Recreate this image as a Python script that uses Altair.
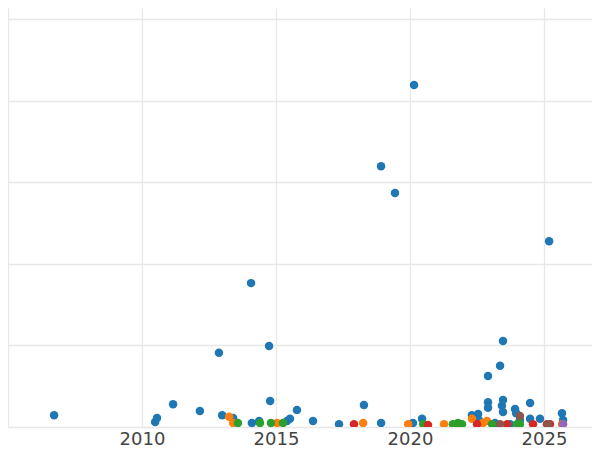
import altair as alt
import pandas as pd

series_names = ["A", "B", "C", "D", "E", "F"]
series_colors = ["#1f77b4", "#ff7f0e", "#2ca02c", "#d62728", "#8c564b", "#9467bd"]

years_a = [2006.72, 2010.49, 2010.56, 2011.16, 2012.16, 2012.87, 2012.99, 2013.40, 2014.07, 2014.10,
           2014.37, 2014.74, 2014.78, 2015.41, 2015.52, 2015.78, 2016.38, 2017.35, 2018.28, 2018.92,
           2018.92, 2019.44, 2020.11, 2020.15, 2020.45, 2022.31, 2022.54, 2022.57, 2022.91, 2022.91,
           2022.91, 2023.17, 2023.36, 2023.43, 2023.47, 2023.47, 2023.73, 2023.92, 2023.96, 2024.10,
           2024.48, 2024.48, 2024.85, 2025.19, 2025.67, 2025.71, 2023.47]
vals_a = [2.9, 1.2, 2.2, 5.6, 3.9, 18.2, 2.9, 2.2, 35.3, 1.0,
          1.5, 19.9, 6.4, 1.5, 2.0, 4.2, 1.5, 0.7, 5.4, 64.0,
          1.0, 57.4, 1.0, 83.9, 2.0, 2.9, 3.2, 1.7, 12.5, 6.1,
          4.7, 1.0, 15.0, 5.2, 21.1, 6.6, 0.7, 4.4, 3.4, 1.7,
          5.9, 2.0, 2.0, 45.6, 3.4, 1.7, 3.7]

years_b = [2013.25, 2013.40, 2015.04, 2018.25, 2019.93, 2021.27, 2022.31, 2022.72, 2022.87, 2025.67]
vals_b = [2.5, 1.0, 1.0, 1.0, 0.7, 0.7, 2.0, 1.0, 1.5, 0.7]

years_c = [2013.58, 2014.40, 2014.81, 2015.26, 2020.49, 2021.60, 2021.79, 2021.94, 2023.06, 2023.99, 2024.10]
vals_c = [1.0, 1.0, 1.0, 1.0, 0.7, 0.7, 1.0, 0.7, 0.7, 0.7, 0.7]

years_d = [2017.91, 2020.67, 2022.50, 2023.62, 2024.59, 2025.11, 2025.22]
vals_d = [0.7, 0.5, 0.7, 0.7, 0.7, 0.7, 0.7]

years_e = [2024.10, 2023.36, 2025.15]
vals_e = [2.7, 0.7, 0.7]

years_f = [2025.71]
vals_f = [0.7]

x_ticks = [2005, 2010, 2015, 2020, 2025]
y_ticks = [0, 20, 40, 60, 80, 100]

rows = []
for name, ys, vs in zip(series_names,
                        [years_a, years_b, years_c, years_d, years_e, years_f],
                        [vals_a, vals_b, vals_c, vals_d, vals_e, vals_f]):
    for yr, v in zip(ys, vs):
        rows.append({"series": name, "year": yr, "value": v, "order": len(rows)})
df = pd.DataFrame(rows)

chart = alt.Chart(df).mark_circle(size=72, opacity=1, clip=True).encode(
    x=alt.X("year:Q",
            scale=alt.Scale(domain=[2005, 2026.79], nice=False, zero=False),
            axis=alt.Axis(values=x_ticks, title=None, ticks=False, domain=False,
                          labelExpr="datum.value == 2005 ? '' : datum.label",
                          format="d", labelFlush=False, labelPadding=3,
                          labelFontSize=18, labelColor="#444444", labelFont="DejaVu Sans")),
    y=alt.Y("value:Q",
            scale=alt.Scale(domain=[0, 102.8], nice=False),
            axis=alt.Axis(values=y_ticks, title=None, labels=False, ticks=False, domain=False)),
    color=alt.Color("series:N", scale=alt.Scale(domain=series_names, range=series_colors), legend=None),
    order=alt.Order("order:Q"),
).properties(
    width=584, height=419, padding=0
).configure_view(
    stroke=None
).configure_axis(
    gridColor="#e8e8e8", gridWidth=1.3
)

chart.save("out.html", embed_options={"renderer": "svg", "actions": False})
